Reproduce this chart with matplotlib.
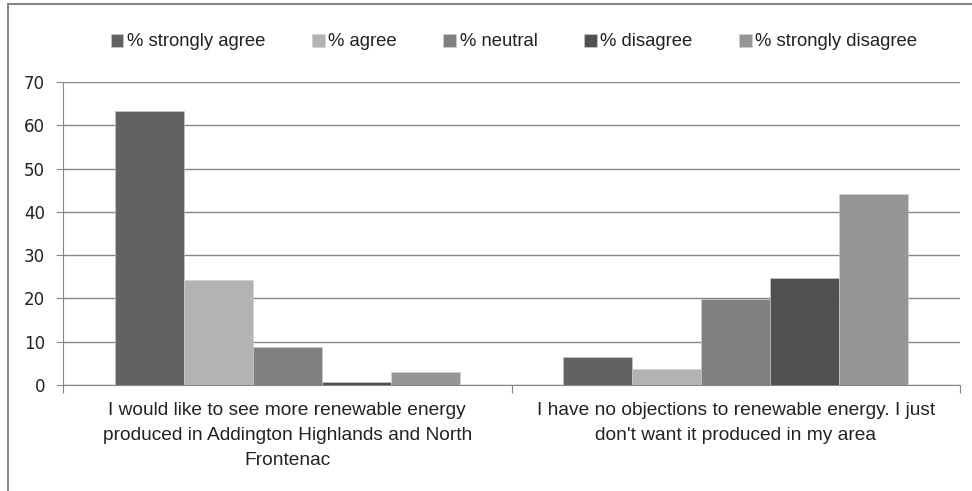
import matplotlib
matplotlib.use("Agg")
import matplotlib.pyplot as plt
import numpy as np
from matplotlib.patches import Rectangle

categories = ["I would like to see more renewable energy\nproduced in Addington Highlands and North\nFrontenac",
              "I have no objections to renewable energy. I just\ndon't want it produced in my area"]
series_names = ["% strongly agree", "% agree", "% neutral", "% disagree", "% strongly disagree"]
strongly_agree = [63.4, 6.5]
agree = [24.3, 3.8]
neutral = [8.7, 19.9]
disagree = [0.6, 24.8]
strongly_disagree = [3.0, 44.2]
yticks = [0, 10, 20, 30, 40, 50, 60, 70]

series = [strongly_agree, agree, neutral, disagree, strongly_disagree]
colors = ["#626262", "#b3b3b3", "#808080", "#505050", "#969696"]

W, H = 972, 491
fig = plt.figure(figsize=(W/100, H/100), dpi=100)
ax = fig.add_axes([63/W, 1-385/H, (960-63)/W, (385-82)/H])

narrow = ["Liberation Sans", "DejaVu Sans"]
bw = 0.77/5
x = np.arange(len(categories))
for i, (vals, c, name) in enumerate(zip(series, colors, series_names)):
    ax.bar(x - 0.385 + bw*(i+0.5), vals, width=bw, color=c, label=name, zorder=3,
           edgecolor="#d0d0d0", linewidth=0.4)

ax.set_xlim(-0.5, 1.5)
ax.set_ylim(0, 70)
ax.set_yticks(yticks)
ax.yaxis.grid(True, color="#868686", linewidth=1.0, zorder=0)
ax.set_xticks([-0.5, 0.5, 1.5])
ax.set_xticklabels([])
ax.tick_params(axis="x", length=6, color="#868686", direction="out")
ax.tick_params(axis="y", length=5, color="#868686", labelsize=12, labelcolor="#222222", pad=8)
for s in ["top", "right"]:
    ax.spines[s].set_visible(False)
ax.spines["left"].set_color("#868686")
ax.spines["bottom"].set_color("#868686")

for xi, lab in zip(x, categories):
    ax.text(xi, -4.0, lab, ha="center", va="top", fontsize=13.8, family=narrow,
            color="#222222", linespacing=1.62)

leg = fig.legend(loc="center", bbox_to_anchor=(514/W, 1-42/H), ncol=5, frameon=False,
                 prop={"family": narrow, "size": 13.3}, handlelength=0.7, handleheight=0.7,
                 handletextpad=0.2, columnspacing=2.5)
for t in leg.get_texts():
    t.set_color("#222222")

fig.patches.append(Rectangle((8/W, -0.1), 1.2, 1.1-4/H, transform=fig.transFigure,
                             fill=False, edgecolor="#868686", linewidth=1.5))

fig.savefig("out.png", dpi=100)
